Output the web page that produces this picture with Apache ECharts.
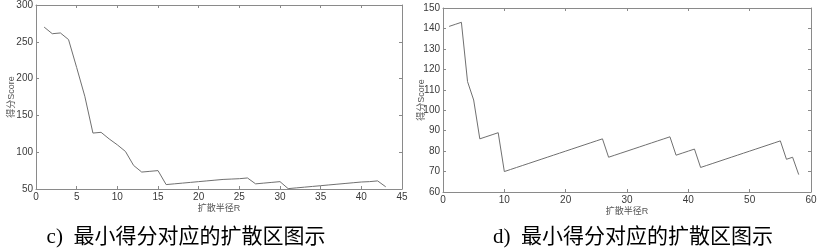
<!DOCTYPE html>
<html><head><meta charset="utf-8">
<script src="https://cdn.jsdelivr.net/npm/echarts@6/dist/echarts.min.js"></script>
<style>html,body{margin:0;padding:0;background:#fff}#c{width:830px;height:249px}</style>
</head><body><div id="c"></div>
<script>
// Chart c)
const radiusC = [1,2,3,4,5,6,7,8,9,10,11,12,13,14,15,16,17,18,19,20,21,22,23,24,25,26,27,28,29,30,31,32,33,34,35,36,37,38,39,40,41,42,43];
const scoreC  = [270,261,262,253,215,176,126,127,118,110,101,82,73,74,75,56,57,58,59,60,61,62,63,63.5,64,65,57,58,59,60,50.5,51.5,52.5,53.5,54.5,55.5,56.5,57.5,58.5,59.5,60,61,53];
// Chart d)
const radiusD = [1,2,3,4,5,6,7,8,9,10,11,12,13,14,15,16,17,18,19,20,21,22,23,24,25,26,27,28,29,30,31,32,33,34,35,36,37,38,39,40,41,42,43,44,45,46,47,48,49,50,51,52,53,54,55,56,57,58];
const scoreD  = [141,142,143,114,105,86,87,88,89,70,71,72,73,74,75,76,77,78,79,80,81,82,83,84,85,86,77,78,79,80,81,82,83,84,85,86,87,78,79,80,81,72,73,74,75,76,77,78,79,80,81,82,83,84,85,76,77,68.5];
const xTicksC = {min:0, max:45, interval:5};
const yTicksC = {min:50, max:300, interval:50};
const xTicksD = {min:0, max:60, interval:10};
const yTicksD = {min:60, max:150, interval:10};
const xName = '扩散半径R';
const yName = '得分Score';
const captionC = 'c)  最小得分对应的扩散区图示';
const captionD = 'd)  最小得分对应的扩散区图示';

const axisCol = '#8a8a8a';
const lblCol = '#3a3a3a';
const font = 'Arial, "Liberation Sans", "Noto Sans CJK SC", sans-serif';
function xAx(gi, t, main){
  return {type:'value', gridIndex:gi, position: main?'bottom':'top', min:t.min, max:t.max, interval:t.interval,
    name: main?xName:'', nameLocation:'middle', nameGap:15, nameMoveOverlap:false,
    nameTextStyle:{color:'#555', fontSize:9, fontFamily:font},
    axisLine:{show:true, onZero:false, lineStyle:{color:axisCol, width:1}},
    axisTick:{show:true, inside:true, length:3, lineStyle:{color:axisCol}},
    axisLabel:{show:main, color:lblCol, fontSize:10, margin:3, fontFamily:font},
    splitLine:{show:false}};
}
function yAx(gi, t, main, gap){
  return {type:'value', gridIndex:gi, position: main?'left':'right', min:t.min, max:t.max, interval:t.interval,
    name: main?yName:'', nameLocation:'middle', nameGap:gap, nameRotate:90, nameMoveOverlap:false,
    nameTextStyle:{color:'#555', fontSize:9, fontFamily:font},
    axisLine:{show:true, onZero:false, lineStyle:{color:axisCol, width:1}},
    axisTick:{show:true, inside:true, length:3, lineStyle:{color:axisCol}},
    axisLabel:{show:main, color:lblCol, fontSize:10, margin:3, fontFamily:font},
    splitLine:{show:false}};
}
const chart = echarts.init(document.getElementById('c'), null, {renderer:'canvas'});
const capStyle = {fontFamily:'"Liberation Serif","Noto Sans CJK SC",serif', fontSize:21, fontWeight:'normal', color:'#000'};
chart.setOption({
  animation:false,
  backgroundColor:'#fff',
  title:[
    {text:captionC, left:181, top:222, textAlign:'center', textStyle:capStyle},
    {text:captionD, left:628, top:222, textAlign:'center', textStyle:capStyle}
  ],
  grid:[
    {left:36, right:428, top:5, bottom:60, containLabel:false},
    {left:443, right:19, top:8, bottom:57, containLabel:false}
  ],
  xAxis:[xAx(0,xTicksC,true), xAx(0,xTicksC,false), xAx(1,xTicksD,true), xAx(1,xTicksD,false)],
  yAxis:[yAx(0,yTicksC,true,20), yAx(0,yTicksC,false,0), yAx(1,yTicksD,true,17), yAx(1,yTicksD,false,0)],
  series:[
    {type:'line', xAxisIndex:0, yAxisIndex:0, data: radiusC.map((x,i)=>[x,scoreC[i]]), showSymbol:false, lineStyle:{color:'#707070', width:1}},
    {type:'line', xAxisIndex:2, yAxisIndex:2, data: radiusD.map((x,i)=>[x,scoreD[i]]), showSymbol:false, lineStyle:{color:'#707070', width:1}}
  ]
});
</script></body></html>
